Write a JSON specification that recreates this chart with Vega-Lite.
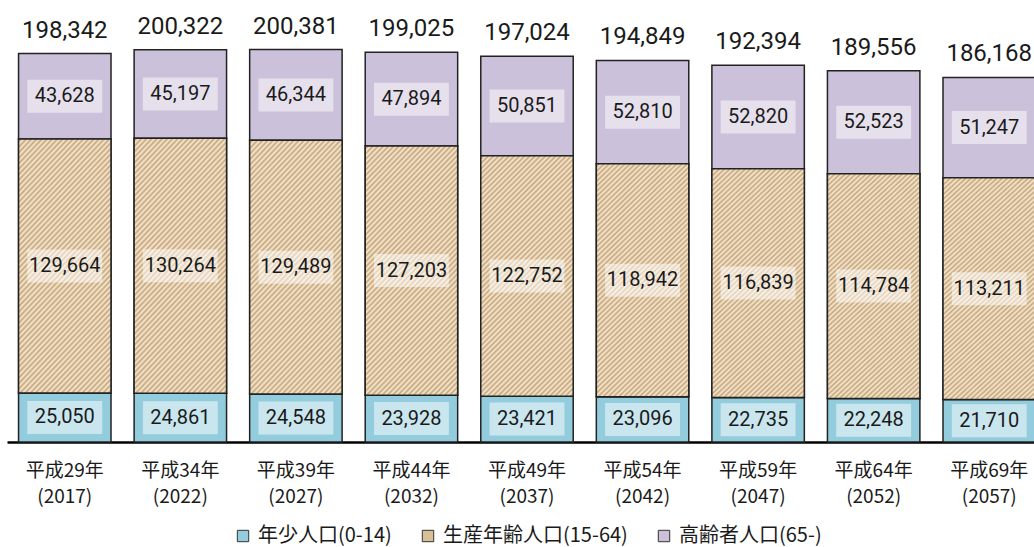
{
 "$schema": "https://vega.github.io/schema/vega-lite/v6.json",
 "width": 1027,
 "height": 442,
 "autosize": {"type": "none"},
 "padding": {"left": 7, "top": 0, "right": 0, "bottom": 105},
 "background": "white",
 "config": {"view": {"stroke": null}},
 "datasets": {
  "seg": [
   {"year": "平成29年(2017)", "cat": "年少人口(0-14)", "order": 1, "value": 25050},
   {"year": "平成29年(2017)", "cat": "生産年齢人口(15-64)", "order": 2, "value": 129664},
   {"year": "平成29年(2017)", "cat": "高齢者人口(65-)", "order": 3, "value": 43628},
   {"year": "平成34年(2022)", "cat": "年少人口(0-14)", "order": 1, "value": 24861},
   {"year": "平成34年(2022)", "cat": "生産年齢人口(15-64)", "order": 2, "value": 130264},
   {"year": "平成34年(2022)", "cat": "高齢者人口(65-)", "order": 3, "value": 45197},
   {"year": "平成39年(2027)", "cat": "年少人口(0-14)", "order": 1, "value": 24548},
   {"year": "平成39年(2027)", "cat": "生産年齢人口(15-64)", "order": 2, "value": 129489},
   {"year": "平成39年(2027)", "cat": "高齢者人口(65-)", "order": 3, "value": 46344},
   {"year": "平成44年(2032)", "cat": "年少人口(0-14)", "order": 1, "value": 23928},
   {"year": "平成44年(2032)", "cat": "生産年齢人口(15-64)", "order": 2, "value": 127203},
   {"year": "平成44年(2032)", "cat": "高齢者人口(65-)", "order": 3, "value": 47894},
   {"year": "平成49年(2037)", "cat": "年少人口(0-14)", "order": 1, "value": 23421},
   {"year": "平成49年(2037)", "cat": "生産年齢人口(15-64)", "order": 2, "value": 122752},
   {"year": "平成49年(2037)", "cat": "高齢者人口(65-)", "order": 3, "value": 50851},
   {"year": "平成54年(2042)", "cat": "年少人口(0-14)", "order": 1, "value": 23096},
   {"year": "平成54年(2042)", "cat": "生産年齢人口(15-64)", "order": 2, "value": 118942},
   {"year": "平成54年(2042)", "cat": "高齢者人口(65-)", "order": 3, "value": 52810},
   {"year": "平成59年(2047)", "cat": "年少人口(0-14)", "order": 1, "value": 22735},
   {"year": "平成59年(2047)", "cat": "生産年齢人口(15-64)", "order": 2, "value": 116839},
   {"year": "平成59年(2047)", "cat": "高齢者人口(65-)", "order": 3, "value": 52820},
   {"year": "平成64年(2052)", "cat": "年少人口(0-14)", "order": 1, "value": 22248},
   {"year": "平成64年(2052)", "cat": "生産年齢人口(15-64)", "order": 2, "value": 114784},
   {"year": "平成64年(2052)", "cat": "高齢者人口(65-)", "order": 3, "value": 52523},
   {"year": "平成69年(2057)", "cat": "年少人口(0-14)", "order": 1, "value": 21710},
   {"year": "平成69年(2057)", "cat": "生産年齢人口(15-64)", "order": 2, "value": 113211},
   {"year": "平成69年(2057)", "cat": "高齢者人口(65-)", "order": 3, "value": 51247}
  ],
  "tot": [
   {"year": "平成29年(2017)", "total": 198342},
   {"year": "平成34年(2022)", "total": 200322},
   {"year": "平成39年(2027)", "total": 200381},
   {"year": "平成44年(2032)", "total": 199025},
   {"year": "平成49年(2037)", "total": 197024},
   {"year": "平成54年(2042)", "total": 194849},
   {"year": "平成59年(2047)", "total": 192394},
   {"year": "平成64年(2052)", "total": 189556},
   {"year": "平成69年(2057)", "total": 186168}
  ]
 },
 "encoding": {
  "x": {
   "field": "year", "type": "nominal",
   "scale": {"domain": ["平成29年(2017)", "平成34年(2022)", "平成39年(2027)", "平成44年(2032)", "平成49年(2037)", "平成54年(2042)", "平成59年(2047)", "平成64年(2052)", "平成69年(2057)"], "range": [0, 1040], "paddingInner": 0.2, "paddingOuter": 0.1},
   "axis": {"title": null, "labelAngle": 0, "labelExpr": "[slice(datum.label,0,5), slice(datum.label,5)]", "labelFont": "Noto Sans CJK JP", "labelFontSize": 19, "labelColor": "#1a1a1a", "labelLineHeight": 26, "labelPadding": 19, "ticks": false, "grid": false, "domainColor": "#000000", "domainWidth": 2.5}
  }
 },
 "layer": [
  {
   "data": {"name": "seg"},
   "transform": [
    {"stack": "value", "groupby": ["year"], "sort": [{"field": "order", "order": "ascending"}], "as": ["y0", "y1"]}
   ],
   "mark": {"type": "bar", "stroke": "#222222", "strokeWidth": 1.5},
   "encoding": {
    "y": {"field": "y1", "type": "quantitative", "scale": {"domain": [0, 225700]}, "axis": null},
    "y2": {"field": "y0"},
    "fill": {
     "field": "cat", "type": "nominal",
     "scale": {"domain": ["年少人口(0-14)", "生産年齢人口(15-64)", "高齢者人口(65-)"], "range": ["#93cddd", "#d9bf98", "#ccc1da"]},
     "legend": {"title": null, "orient": "none", "legendX": 226, "legendY": 526, "direction": "horizontal", "symbolType": "square", "symbolSize": 130, "symbolStrokeColor": "#333333", "symbolStrokeWidth": 1, "symbolOpacity": 1, "labelFont": "Noto Sans CJK JP", "labelFontSize": 20, "labelColor": "#1a1a1a", "labelLimit": 400, "columnPadding": 26, "labelOffset": 5}
    }
   }
  },
  {
   "data": {"name": "seg"},
   "transform": [
    {"stack": "value", "groupby": ["year"], "sort": [{"field": "order", "order": "ascending"}], "as": ["y0", "y1"]},
    {"filter": "datum.order === 2"}
   ],
   "mark": {
    "type": "bar", "stroke": "#222222", "strokeWidth": 1.5,
    "fill": {"gradient": "linear", "x1": 0, "y1": 0, "x2": 0.465, "y2": 1.206, "stops": [
     {"offset": 0, "color": "#f7ead2"}, {"offset": 0.00781, "color": "#c6a57c"}, {"offset": 0.01563, "color": "#f7ead2"}, {"offset": 0.02344, "color": "#c6a57c"},
     {"offset": 0.03125, "color": "#f7ead2"}, {"offset": 0.03906, "color": "#c6a57c"}, {"offset": 0.04688, "color": "#f7ead2"}, {"offset": 0.05469, "color": "#c6a57c"},
     {"offset": 0.0625, "color": "#f7ead2"}, {"offset": 0.07031, "color": "#c6a57c"}, {"offset": 0.07813, "color": "#f7ead2"}, {"offset": 0.08594, "color": "#c6a57c"},
     {"offset": 0.09375, "color": "#f7ead2"}, {"offset": 0.10156, "color": "#c6a57c"}, {"offset": 0.10938, "color": "#f7ead2"}, {"offset": 0.11719, "color": "#c6a57c"},
     {"offset": 0.125, "color": "#f7ead2"}, {"offset": 0.13281, "color": "#c6a57c"}, {"offset": 0.14063, "color": "#f7ead2"}, {"offset": 0.14844, "color": "#c6a57c"},
     {"offset": 0.15625, "color": "#f7ead2"}, {"offset": 0.16406, "color": "#c6a57c"}, {"offset": 0.17188, "color": "#f7ead2"}, {"offset": 0.17969, "color": "#c6a57c"},
     {"offset": 0.1875, "color": "#f7ead2"}, {"offset": 0.19531, "color": "#c6a57c"}, {"offset": 0.20313, "color": "#f7ead2"}, {"offset": 0.21094, "color": "#c6a57c"},
     {"offset": 0.21875, "color": "#f7ead2"}, {"offset": 0.22656, "color": "#c6a57c"}, {"offset": 0.23438, "color": "#f7ead2"}, {"offset": 0.24219, "color": "#c6a57c"},
     {"offset": 0.25, "color": "#f7ead2"}, {"offset": 0.25781, "color": "#c6a57c"}, {"offset": 0.26563, "color": "#f7ead2"}, {"offset": 0.27344, "color": "#c6a57c"},
     {"offset": 0.28125, "color": "#f7ead2"}, {"offset": 0.28906, "color": "#c6a57c"}, {"offset": 0.29688, "color": "#f7ead2"}, {"offset": 0.30469, "color": "#c6a57c"},
     {"offset": 0.3125, "color": "#f7ead2"}, {"offset": 0.32031, "color": "#c6a57c"}, {"offset": 0.32813, "color": "#f7ead2"}, {"offset": 0.33594, "color": "#c6a57c"},
     {"offset": 0.34375, "color": "#f7ead2"}, {"offset": 0.35156, "color": "#c6a57c"}, {"offset": 0.35938, "color": "#f7ead2"}, {"offset": 0.36719, "color": "#c6a57c"},
     {"offset": 0.375, "color": "#f7ead2"}, {"offset": 0.38281, "color": "#c6a57c"}, {"offset": 0.39063, "color": "#f7ead2"}, {"offset": 0.39844, "color": "#c6a57c"},
     {"offset": 0.40625, "color": "#f7ead2"}, {"offset": 0.41406, "color": "#c6a57c"}, {"offset": 0.42188, "color": "#f7ead2"}, {"offset": 0.42969, "color": "#c6a57c"},
     {"offset": 0.4375, "color": "#f7ead2"}, {"offset": 0.44531, "color": "#c6a57c"}, {"offset": 0.45313, "color": "#f7ead2"}, {"offset": 0.46094, "color": "#c6a57c"},
     {"offset": 0.46875, "color": "#f7ead2"}, {"offset": 0.47656, "color": "#c6a57c"}, {"offset": 0.48438, "color": "#f7ead2"}, {"offset": 0.49219, "color": "#c6a57c"},
     {"offset": 0.5, "color": "#f7ead2"}, {"offset": 0.50781, "color": "#c6a57c"}, {"offset": 0.51563, "color": "#f7ead2"}, {"offset": 0.52344, "color": "#c6a57c"},
     {"offset": 0.53125, "color": "#f7ead2"}, {"offset": 0.53906, "color": "#c6a57c"}, {"offset": 0.54688, "color": "#f7ead2"}, {"offset": 0.55469, "color": "#c6a57c"},
     {"offset": 0.5625, "color": "#f7ead2"}, {"offset": 0.57031, "color": "#c6a57c"}, {"offset": 0.57813, "color": "#f7ead2"}, {"offset": 0.58594, "color": "#c6a57c"},
     {"offset": 0.59375, "color": "#f7ead2"}, {"offset": 0.60156, "color": "#c6a57c"}, {"offset": 0.60938, "color": "#f7ead2"}, {"offset": 0.61719, "color": "#c6a57c"},
     {"offset": 0.625, "color": "#f7ead2"}, {"offset": 0.63281, "color": "#c6a57c"}, {"offset": 0.64063, "color": "#f7ead2"}, {"offset": 0.64844, "color": "#c6a57c"},
     {"offset": 0.65625, "color": "#f7ead2"}, {"offset": 0.66406, "color": "#c6a57c"}, {"offset": 0.67188, "color": "#f7ead2"}, {"offset": 0.67969, "color": "#c6a57c"},
     {"offset": 0.6875, "color": "#f7ead2"}, {"offset": 0.69531, "color": "#c6a57c"}, {"offset": 0.70313, "color": "#f7ead2"}, {"offset": 0.71094, "color": "#c6a57c"},
     {"offset": 0.71875, "color": "#f7ead2"}, {"offset": 0.72656, "color": "#c6a57c"}, {"offset": 0.73438, "color": "#f7ead2"}, {"offset": 0.74219, "color": "#c6a57c"},
     {"offset": 0.75, "color": "#f7ead2"}, {"offset": 0.75781, "color": "#c6a57c"}, {"offset": 0.76563, "color": "#f7ead2"}, {"offset": 0.77344, "color": "#c6a57c"},
     {"offset": 0.78125, "color": "#f7ead2"}, {"offset": 0.78906, "color": "#c6a57c"}, {"offset": 0.79688, "color": "#f7ead2"}, {"offset": 0.80469, "color": "#c6a57c"},
     {"offset": 0.8125, "color": "#f7ead2"}, {"offset": 0.82031, "color": "#c6a57c"}, {"offset": 0.82813, "color": "#f7ead2"}, {"offset": 0.83594, "color": "#c6a57c"},
     {"offset": 0.84375, "color": "#f7ead2"}, {"offset": 0.85156, "color": "#c6a57c"}, {"offset": 0.85938, "color": "#f7ead2"}, {"offset": 0.86719, "color": "#c6a57c"},
     {"offset": 0.875, "color": "#f7ead2"}, {"offset": 0.88281, "color": "#c6a57c"}, {"offset": 0.89063, "color": "#f7ead2"}, {"offset": 0.89844, "color": "#c6a57c"},
     {"offset": 0.90625, "color": "#f7ead2"}, {"offset": 0.91406, "color": "#c6a57c"}, {"offset": 0.92188, "color": "#f7ead2"}, {"offset": 0.92969, "color": "#c6a57c"},
     {"offset": 0.9375, "color": "#f7ead2"}, {"offset": 0.94531, "color": "#c6a57c"}, {"offset": 0.95313, "color": "#f7ead2"}, {"offset": 0.96094, "color": "#c6a57c"},
     {"offset": 0.96875, "color": "#f7ead2"}, {"offset": 0.97656, "color": "#c6a57c"}, {"offset": 0.98438, "color": "#f7ead2"}, {"offset": 0.99219, "color": "#c6a57c"},
     {"offset": 1, "color": "#f7ead2"}
    ]}
   },
   "encoding": {
    "y": {"field": "y1", "type": "quantitative", "scale": {"domain": [0, 225700]}, "axis": null},
    "y2": {"field": "y0"}
   }
  },
  {
   "data": {"name": "seg"},
   "transform": [
    {"stack": "value", "groupby": ["year"], "sort": [{"field": "order", "order": "ascending"}], "as": ["y0", "y1"]},
    {"calculate": "(datum.y0 + datum.y1) / 2", "as": "ymid"}
   ],
   "mark": {"type": "bar", "fill": "#ffffff", "opacity": 0.5, "width": {"band": 0.81}, "yOffset": -16.5, "y2Offset": 16.5},
   "encoding": {
    "y": {"field": "ymid", "type": "quantitative", "scale": {"domain": [0, 225700]}, "axis": null},
    "y2": {"field": "ymid"}
   }
  },
  {
   "data": {"name": "seg"},
   "transform": [
    {"stack": "value", "groupby": ["year"], "sort": [{"field": "order", "order": "ascending"}], "as": ["y0", "y1"]},
    {"calculate": "(datum.y0 + datum.y1) / 2", "as": "ymid"}
   ],
   "mark": {"type": "text", "font": "Roboto", "fontSize": 20, "color": "#1a1a1a", "baseline": "middle", "align": "center"},
   "encoding": {
    "y": {"field": "ymid", "type": "quantitative", "scale": {"domain": [0, 225700]}, "axis": null},
    "text": {"field": "value", "type": "quantitative", "format": ",d"}
   }
  },
  {
   "data": {"name": "tot"},
   "mark": {"type": "text", "font": "Roboto", "fontSize": 24, "color": "#1a1a1a", "baseline": "middle", "align": "center", "dy": -23},
   "encoding": {
    "y": {"field": "total", "type": "quantitative", "scale": {"domain": [0, 225700]}, "axis": null},
    "text": {"field": "total", "type": "quantitative", "format": ",d"}
   }
  }
 ]
}
